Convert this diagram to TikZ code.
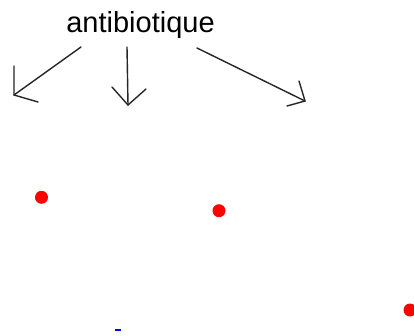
\documentclass[tikz,border=0pt]{standalone}
\usepackage{fontspec}
\setmainfont{Liberation Sans}
\begin{document}
\begin{tikzpicture}[x=1pt,y=-1pt,
  stroke/.style={draw=black!85,line width=1.4pt,line cap=round},
  dot/.style={circle,fill=red,inner sep=0pt,minimum size=13pt},
  label/.style={font=\fontsize{29}{34}\selectfont,inner sep=0pt,anchor=base}]
\useasboundingbox[fill=white] (0,0) rectangle (414,336);
\node[label] (ab) at (140.5,33) {antibiotique};

% left arrow
\coordinate (l0) at (81,47);
\coordinate (l1) at (14,95);
\coordinate (la) at (14,66);
\coordinate (lb) at (38,102);
\draw[stroke] (l0) -- (l1);
\draw[stroke] (la) -- (l1) -- (lb);

% middle arrow
\coordinate (m0) at (127,47);
\coordinate (m1) at (128,105);
\coordinate (ma) at (112,87);
\coordinate (mb) at (146,89);
\draw[stroke] (m0) -- (m1);
\draw[stroke] (ma) -- (m1) -- (mb);

% right arrow
\coordinate (r0) at (197,48);
\coordinate (r1) at (305,101);
\coordinate (ra) at (299,81);
\coordinate (rb) at (287,106);
\draw[stroke] (r0) -- (r1);
\draw[stroke] (ra) -- (r1) -- (rb);

% dots
\node[dot] (d1) at (41.5,197.3) {};
\node[dot] (d2) at (219,210.7) {};
\begin{scope}
\clip (0,0) rectangle (414,336);
\node[dot] (d3) at (410,310) {};
\end{scope}
\fill[blue] (115,329) rectangle (121,331);
\end{tikzpicture}
\end{document}
